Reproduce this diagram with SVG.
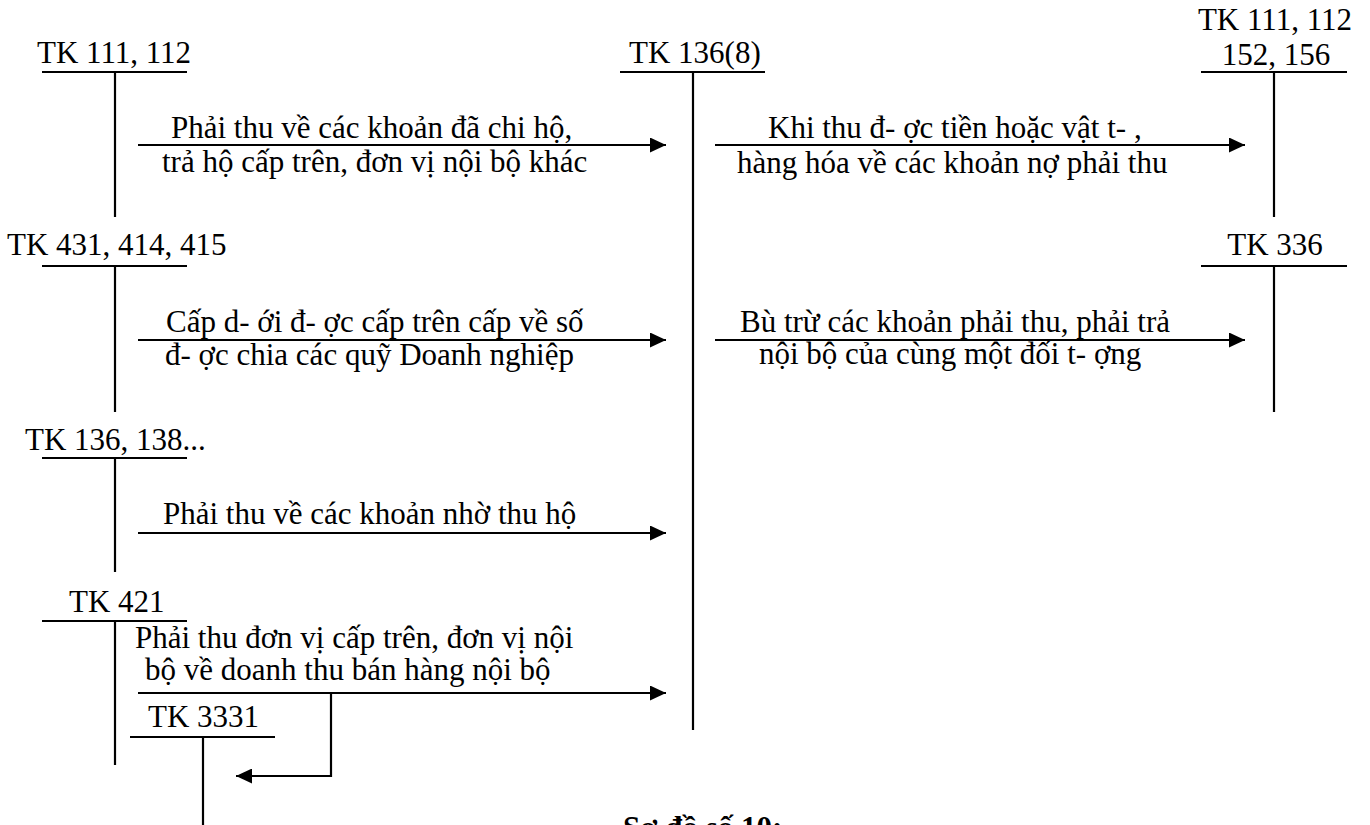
<svg xmlns="http://www.w3.org/2000/svg" width="1370" height="825" viewBox="0 0 1370 825">
<style>
text{font-family:"Liberation Serif","Times New Roman",serif;font-size:31px;fill:#000}
.b{font-weight:bold}
.m{text-anchor:middle}
line,path.l{stroke:#000;stroke-width:2.2;fill:none}
</style>
<defs>
<marker id="ah" markerWidth="16" markerHeight="15" refX="16" refY="7.5" orient="auto" markerUnits="userSpaceOnUse">
<path d="M0,0 L16,7.5 L0,15 Z" fill="#000"/>
</marker>
</defs>
<rect width="1370" height="825" fill="#fff"/>
<g id="tk111">
<text x="37" y="63">TK 111, 112</text>
<line x1="42" y1="72" x2="187" y2="72"/>
<line x1="115" y1="72" x2="115" y2="217"/>
</g>
<g id="tk1368">
<text x="629" y="63">TK 136(8)</text>
<line x1="620" y1="72" x2="765" y2="72"/>
<line x1="693" y1="72" x2="693" y2="730"/>
</g>
<g id="tk111r">
<text class="m" x="1275" y="30">TK 111, 112</text>
<text class="m" x="1276" y="65">152, 156</text>
<line x1="1201" y1="72" x2="1347" y2="72"/>
<line x1="1274" y1="72" x2="1274" y2="217"/>
</g>
<g id="tk431">
<text x="7" y="255">TK 431, 414, 415</text>
<line x1="42" y1="266" x2="187" y2="266"/>
<line x1="115" y1="266" x2="115" y2="412"/>
</g>
<g id="tk336">
<text class="m" x="1275" y="255">TK 336</text>
<line x1="1201" y1="266" x2="1347" y2="266"/>
<line x1="1274" y1="266" x2="1274" y2="412"/>
</g>
<g id="tk136">
<text x="25" y="450">TK 136, 138...</text>
<line x1="42" y1="458" x2="187" y2="458"/>
<line x1="115" y1="458" x2="115" y2="572"/>
</g>
<g id="tk421">
<text x="69" y="612">TK 421</text>
<line x1="42" y1="621" x2="187" y2="621"/>
<line x1="115" y1="621" x2="115" y2="765"/>
</g>
<g id="tk3331">
<text x="148" y="727">TK 3331</text>
<line x1="130" y1="737" x2="275" y2="737"/>
<line x1="203" y1="737" x2="203" y2="825"/>
</g>
<g id="connectors">
<line x1="138" y1="145" x2="666" y2="145" marker-end="url(#ah)"/>
<line x1="715" y1="145" x2="1245" y2="145" marker-end="url(#ah)"/>
<line x1="138" y1="340" x2="666" y2="340" marker-end="url(#ah)"/>
<line x1="715" y1="340" x2="1245" y2="340" marker-end="url(#ah)"/>
<line x1="138" y1="533" x2="666" y2="533" marker-end="url(#ah)"/>
<line x1="138" y1="693" x2="666" y2="693" marker-end="url(#ah)"/>
<path class="l" d="M331,693 L331,776 L236,776" marker-end="url(#ah)"/>
</g>
<g id="labels">
<text x="171" y="138">Phải thu về các khoản đã chi hộ,</text>
<text x="162" y="172">trả hộ cấp trên, đơn vị nội bộ khác</text>
<text x="768" y="138">Khi thu đ- ợc tiền hoặc vật t- ,</text>
<text x="737" y="173">hàng hóa về các khoản nợ phải thu</text>
<text x="166" y="332">Cấp d- ới đ- ợc cấp trên cấp về số</text>
<text x="165" y="365">đ- ợc chia các quỹ Doanh nghiệp</text>
<text x="740" y="332">Bù trừ các khoản phải thu, phải trả</text>
<text x="759" y="364">nội bộ của cùng một đối t- ợng</text>
<text x="163" y="524">Phải thu về các khoản nhờ thu hộ</text>
<text x="135" y="648">Phải thu đơn vị cấp trên, đơn vị nội</text>
<text x="145" y="680">bộ về doanh thu bán hàng nội bộ</text>
<text class="b" x="623" y="838">Sơ đồ số 10:</text>
</g>
</svg>
